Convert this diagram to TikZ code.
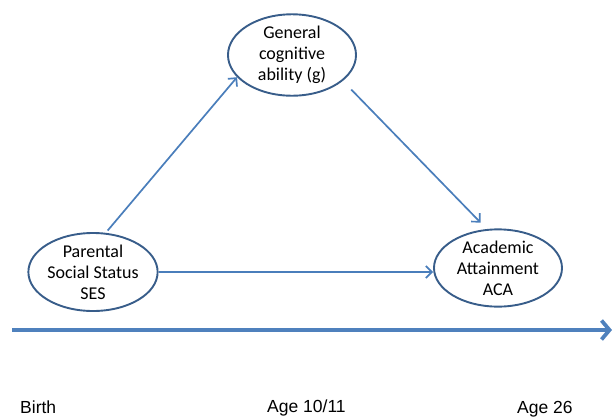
\documentclass[tikz,border=0pt]{standalone}
\usepackage{fontspec}
\setmainfont{Carlito}
\newfontfamily\agefont{Liberation Sans}
\usepackage{xcolor}
\usepackage{tikz}
\usetikzlibrary{arrows.meta}
\usetikzlibrary{shapes.geometric}
\definecolor{ellblue}{HTML}{385D8A}
\definecolor{arrblue}{HTML}{4A7EBB}
\definecolor{lineblue}{HTML}{4F81BD}
\tikzset{
    tnode/.style = {align=center, inner sep=0pt, text centered},
    var_node/.style = {tnode, ellipse, draw=ellblue, line width=1.9pt, minimum width=128pt, font=\fontsize{18}{21}\selectfont},
    age_node/.style = {anchor=base west, inner sep=0pt, font=\agefont\fontsize{17.5}{20}\selectfont},
    path_arrow/.style = {->, draw=arrblue, line width=1.7pt},
    time_arrow/.style = {->, draw=lineblue, line width=3.8pt, >={Straight Barb[length=8pt,width=19pt]}}
}

\begin{document}
\begin{tikzpicture}
            [x=1pt, y=-1pt, >={Straight Barb[length=6pt,width=12pt]}]
            \useasboundingbox (0,0) rectangle (614,416);

            % the three variables
            \node [var_node, minimum height=74pt] (g) at (292,55) {General\\cognitive\\ability (g)};
            \node [var_node, minimum height=78pt] (ses) at (93,272) {Parental\\Social Status\\SES};
            \node [var_node, minimum height=70pt] (aca) at (498,268) {Academic\\Attainment\\ACA};

            % paths
            \draw [path_arrow, shorten <=3pt] (ses.72) -- (g.202);
            \draw [path_arrow, shorten <=12pt, shorten >=9pt] (g.-27) -- (aca.106);
            \draw [path_arrow] (ses.east) -- (ses.east -| aca.west);

            % time line
            \coordinate (t0) at (12,330);
            \coordinate (t1) at (612,330);
            \draw [time_arrow] (t0) -- (t1);

            \node [age_node] (birth) at (20,413) {Birth};
            \node [age_node] (age11) at (267,412) {Age 10/11};
            \node [age_node] (age26) at (517,413) {Age 26};
        \end{tikzpicture}
\end{document}
